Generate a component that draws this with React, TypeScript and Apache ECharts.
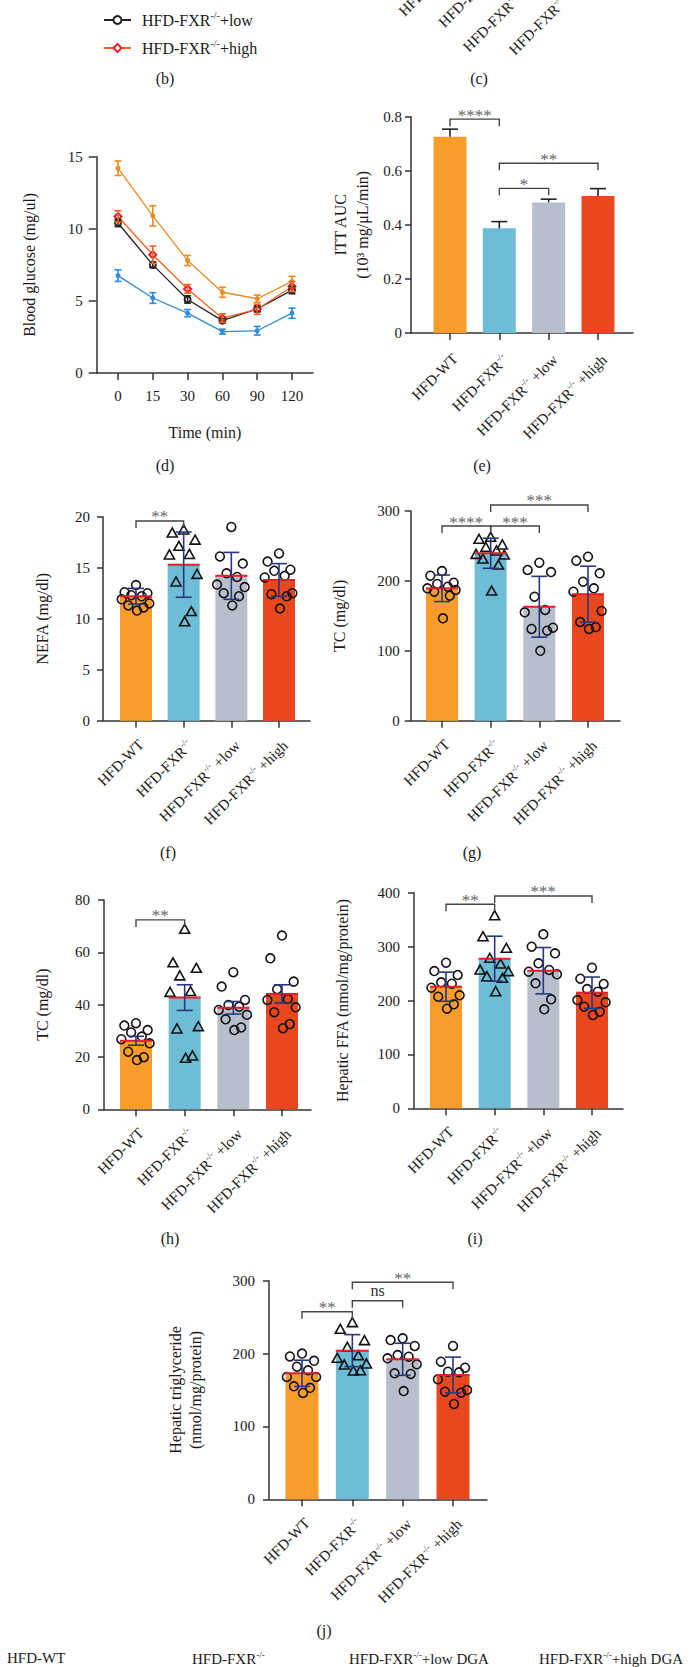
import React, { useEffect, useRef } from "react";
import * as echarts from "echarts";

const FONT = "'Liberation Serif', 'Times New Roman', serif";
const TXT = "#1a1a1a";
const AXIS = "#333333";
const NAVY = "#28367F";

// ---------- shared categories ----------
const groupNames = ["HFD-WT", "HFD-FXR-/-", "HFD-FXR-/- +low", "HFD-FXR-/- +high"];
const barColors = ["#F99C2C", "#6DBDD6", "#B7BFCC", "#E9481F"];
const bottomLegendNames = ["HFD-WT", "HFD-FXR-/-", "HFD-FXR-/-+low DGA", "HFD-FXR-/-+high DGA"];
const panelLetters = ["(b)", "(c)", "(d)", "(e)", "(f)", "(g)", "(h)", "(i)", "(j)"];

// ---------- (d) insulin tolerance curve ----------
const timeLabels = ["0", "15", "30", "60", "90", "120"];
const lineNames = ["HFD-WT", "HFD-FXR-/-", "HFD-FXR-/-+low", "HFD-FXR-/-+high"];
const glucoseWT = [14.2, 10.9, 7.8, 5.6, 5.15, 6.35];
const glucoseWTErr = [0.5, 0.7, 0.35, 0.35, 0.25, 0.35];
const glucoseKO = [6.75, 5.2, 4.15, 2.87, 2.93, 4.15];
const glucoseKOErr = [0.4, 0.37, 0.25, 0.17, 0.3, 0.35];
const glucoseLow = [10.4, 7.5, 5.1, 3.63, 4.44, 5.75];
const glucoseLowErr = [0.25, 0.2, 0.25, 0.15, 0.2, 0.25];
const glucoseHigh = [10.85, 8.2, 5.83, 3.8, 4.42, 6.0];
const glucoseHighErr = [0.4, 0.6, 0.3, 0.3, 0.35, 0.35];

// ---------- (e) ITT AUC ----------
const ittMean = [0.726, 0.387, 0.483, 0.507];
const ittSem = [0.028, 0.025, 0.012, 0.027];
const ittSig = [[0, 1, 0.791], [1, 3, 0.628], [1, 2, 0.535]];
const ittSigLabels = ["****", "**", "*"];

// ---------- (f) NEFA ----------
const nefaMean = [12.2, 15.3, 14.2, 13.8];
const nefaSd = [0.77, 3.2, 2.3, 1.6];
const nefaWT = [13.3, 12.6, 12.5, 12.3, 12.2, 11.9, 11.5, 11.3, 11.1, 10.8];
const nefaKO = [18.7, 18.4, 17.7, 17.1, 16.3, 16.25, 14.35, 13.6, 10.7, 9.7];
const nefaLow = [19.0, 16.1, 15.4, 14.45, 14.1, 13.35, 13.1, 12.5, 12.2, 11.3];
const nefaHigh = [16.4, 15.6, 14.8, 14.7, 14.2, 14.05, 12.5, 12.4, 12.2, 11.0];
const nefaSig = [[0, 1, 19.58]];
const nefaSigLabels = ["**"];

// ---------- (g) TC ----------
const tcMean = [189.4, 239.5, 163, 181];
const tcSd = [19, 21.5, 43.5, 40];
const tcWT = [214, 207.4, 197.4, 195.6, 191.7, 189.4, 187, 184.6, 178.9, 146.5];
const tcKO = [262.4, 259.5, 251.4, 248, 242.8, 238, 237, 231.3, 222.7, 185.5];
const tcLow = [226, 215.6, 212.7, 177.4, 158.4, 155, 133, 131.2, 128.8, 100];
const tcHigh = [234.7, 229, 210.8, 198.9, 189.4, 184.6, 157, 141.2, 134, 131.2];
const tcSig = [[0, 1, 278.5], [1, 2, 278.5], [1, 3, 308.6]];
const tcSigLabels = ["****", "***", "***"];

// ---------- (h) TC ----------
const tc2Mean = [26.2, 42.7, 38.8, 44.1];
const tc2Sem = [1.7, 4.9, 2.4, 3.5];
const tc2WT = [32.9, 32.0, 30.3, 29.4, 27.8, 26.8, 25.2, 22.0, 19.9, 18.8];
const tc2KO = [68.8, 56, 53.9, 51, 45, 44.7, 31.6, 30.7, 20.4, 19.5];
const tc2Low = [52.4, 46.9, 41.8, 39.9, 39.2, 38, 36.1, 34.4, 31.3, 30.3];
const tc2High = [66.4, 57.7, 48.8, 45.9, 42.2, 41.8, 39, 37.1, 32.6, 31];
const tc2Sig = [[0, 1, 72.4]];
const tc2SigLabels = ["**"];

// ---------- (i) Hepatic FFA ----------
const ffaMean = [225.6, 277.6, 255.3, 214.5];
const ffaSd = [27, 41.7, 43, 29];
const ffaWT = [270.2, 254.7, 247.3, 233.7, 231.2, 223.8, 209.6, 207, 193, 184.8];
const ffaKO = [357.3, 318.4, 296.8, 278.3, 267.7, 256.6, 253.5, 244.2, 241.2, 216.3];
const ffaLow = [322.8, 299.8, 287.5, 269, 256.6, 253.5, 248.6, 231.9, 202.2, 183.7];
const ffaHigh = [260.9, 240.4, 230.6, 221.3, 216.3, 200.9, 196.7, 188.5, 179.2, 173.1];
const ffaSig = [[0, 1, 378.5], [1, 3, 393.9]];
const ffaSigLabels = ["**", "***"];

// ---------- (j) Hepatic triglyceride ----------
const tgMean = [172.9, 204, 192.1, 170.6];
const tgSd = [18, 22, 22, 24.5];
const tgWT = [200, 196, 190, 182, 177, 168, 168, 155, 153, 146];
const tgKO = [242.4, 233.3, 217.7, 208.6, 197, 193.5, 185.7, 184.3, 176.5, 176];
const tgLow = [221, 218.6, 210.4, 198, 195.7, 193.5, 185.3, 172.9, 172, 148.6];
const tgHigh = [210.4, 188.8, 180.6, 175.1, 174.3, 164.7, 150, 147.7, 146.3, 130.8];
const tgSig = [[0, 1, 257.4], [1, 2, 272.5], [1, 3, 297.8]];
const tgSigLabels = ["**", "ns", "**"];

// horizontal spread pattern for dots (by rank inside a group, in category units)
const jitter = [0, -0.24, 0.24, -0.1, 0.12, -0.3, 0.28, -0.16, 0.16, 0.02];

// ---------- helpers ----------
const supRich = (size: number) => ({
  n: { fontFamily: FONT, fontSize: size, color: TXT },
  s: { fontFamily: FONT, fontSize: Math.round(size * 0.6), color: TXT, padding: [0, 0, Math.round(size * 0.6), 0] },
});
const supText = (t: string) => {
  const parts = t.split("-/-");
  if (parts.length === 1) return `{n|${t}}`;
  return `{n|${parts[0]}}{s|-/-}` + (parts[1] ? `{n|${parts[1]}}` : "");
};

type Lay = { xL: number; xR: number; c0: number; cN: number; n: number; top: number; bottom: number };

const layC: Lay = { xL: 412.5, xR: 608.5, c0: 437, cN: 584, n: 3, top: -134, bottom: -66 };
const layD: Lay = { xL: 96.7, xR: 313, c0: 118, cN: 292, n: 5, top: 156.7, bottom: 373 };
const layE: Lay = { xL: 411, xR: 633, c0: 450, cN: 598, n: 3, top: 116.7, bottom: 333 };
const layF: Lay = { xL: 103, xR: 310, c0: 136, cN: 279, n: 3, top: 516.7, bottom: 720.7 };
const layG: Lay = { xL: 410.7, xR: 620, c0: 442, cN: 588, n: 3, top: 511, bottom: 720.7 };
const layH: Lay = { xL: 104, xR: 311, c0: 136, cN: 282, n: 3, top: 900, bottom: 1109.3 };
const layI: Lay = { xL: 414, xR: 623, c0: 446, cN: 592, n: 3, top: 892.7, bottom: 1108.3 };
const layJ: Lay = { xL: 269, xR: 487, c0: 302, cN: 453, n: 3, top: 1280.7, bottom: 1499.3 };

const gridOf = (l: Lay) => ({ left: l.xL, top: l.top, width: l.xR - l.xL, height: l.bottom - l.top, containLabel: false });
const rangeOf = (l: Lay) => {
  const unit = (l.cN - l.c0) / l.n;
  return { min: (l.xL - l.c0) / unit, max: l.n + (l.xR - l.cN) / unit };
};

const axisLineStyle = { color: AXIS, width: 1.5 };

const groupXAxis = (gridIndex: number, l: Lay, margin: number, hidden = false) => ({
  type: "value",
  gridIndex,
  ...rangeOf(l),
  axisLine: { show: !hidden, onZero: false, lineStyle: axisLineStyle },
  axisTick: { show: !hidden, customValues: [0, 1, 2, 3], length: 7, lineStyle: axisLineStyle },
  axisLabel: {
    customValues: [0, 1, 2, 3],
    rotate: 45,
    align: "right",
    verticalAlign: "top",
    margin,
    formatter: (v: number) => supText(groupNames[Math.round(v)]),
    rich: supRich(15),
  },
  splitLine: { show: false },
});

const valueYAxis = (
  gridIndex: number,
  max: number,
  interval: number,
  name: string,
  nameGap: number,
  margin: number,
  lineHeight = 18,
  tickLen = 6,
  hidden = false
) => ({
  type: "value",
  gridIndex,
  min: 0,
  max,
  interval,
  show: !hidden,
  name,
  nameLocation: "middle",
  nameGap,
  nameTextStyle: { fontFamily: FONT, fontSize: 16, color: TXT, lineHeight },
  axisLine: { show: true, onZero: false, lineStyle: axisLineStyle },
  axisTick: { show: true, length: tickLen, lineStyle: axisLineStyle },
  axisLabel: { fontFamily: FONT, fontSize: 15, color: TXT, margin },
  splitLine: { show: false },
});

const errorRender = (color: string, mode: "up" | "both", capHalf: number, redW: number) => (params: any, api: any) => {
  const i = api.value(0);
  const m = api.value(1);
  const e = api.value(2);
  const c = api.coord([i, m]);
  const hi = api.coord([i, m + e]);
  const lo = api.coord([i, mode === "up" ? m : m - e]);
  const st = { stroke: color, lineWidth: 1.6, fill: "none" };
  const children: any[] = [];
  if (redW > 0) {
    children.push({
      type: "line",
      shape: { x1: c[0] - redW / 2, y1: c[1], x2: c[0] + redW / 2, y2: c[1] },
      style: { stroke: "#E3202A", lineWidth: 2 },
    });
  }
  children.push({ type: "line", shape: { x1: c[0], y1: hi[1], x2: c[0], y2: lo[1] }, style: st });
  children.push({ type: "line", shape: { x1: c[0] - capHalf, y1: hi[1], x2: c[0] + capHalf, y2: hi[1] }, style: st });
  if (mode === "both") {
    children.push({ type: "line", shape: { x1: c[0] - capHalf, y1: lo[1], x2: c[0] + capHalf, y2: lo[1] }, style: st });
  }
  return { type: "group", children };
};

const pointRender = (params: any, api: any) => {
  const g = api.value(0);
  const v = api.value(1);
  const j = api.value(2);
  const p = api.coord([g, v]);
  const unit = api.size([1, 0])[0];
  const x = p[0] + j * unit;
  const y = p[1];
  const style = { fill: "none", stroke: "#111111", lineWidth: 1.6 };
  if (g === 1) {
    return { type: "polygon", shape: { points: [[x, y - 5], [x - 5, y + 4], [x + 5, y + 4]] }, style };
  }
  return { type: "circle", shape: { cx: x, cy: y, r: 4.4 }, style };
};

const bracketRender = (labels: string[]) => (params: any, api: any) => {
  const a = api.value(0);
  const b = api.value(1);
  const lv = api.value(2);
  const pa = api.coord([a, lv]);
  const pb = api.coord([b, lv]);
  const y = pa[1];
  const label = labels[params.dataIndex];
  const isNs = label === "ns";
  return {
    type: "group",
    children: [
      {
        type: "polyline",
        shape: { points: [[pa[0], y + 7], [pa[0], y], [pb[0], y], [pb[0], y + 7]] },
        style: { stroke: "#444444", lineWidth: 1.4, fill: "none" },
      },
      {
        type: "text",
        x: (pa[0] + pb[0]) / 2,
        y: isNs ? y - 10 : y - 4,
        style: {
          text: label,
          fontFamily: FONT,
          fontSize: isNs ? 16 : 17,
          fill: isNs ? "#333333" : "#666666",
          align: "center",
          verticalAlign: "middle",
        },
      },
    ],
  };
};

function barPanel(
  k: number,
  means: number[],
  errs: number[],
  errMode: "up" | "both",
  errColor: string,
  redTop: boolean,
  points: number[][] | null,
  sig: number[][],
  sigLabels: string[],
  barW: number
) {
  const out: any[] = [
    {
      type: "bar",
      xAxisIndex: k,
      yAxisIndex: k,
      barWidth: barW,
      silent: true,
      z: 1,
      data: means.map((v, i) => ({ value: [i, v], itemStyle: { color: barColors[i] } })),
    },
  ];
  if (points) {
    const pdata: number[][] = [];
    points.forEach((vals, g) => vals.forEach((v, r) => pdata.push([g, v, jitter[r]])));
    out.push({ type: "custom", xAxisIndex: k, yAxisIndex: k, clip: false, silent: true, z: 4, renderItem: pointRender, data: pdata });
  }
  out.push({
    type: "custom",
    xAxisIndex: k,
    yAxisIndex: k,
    clip: false,
    silent: true,
    z: 5,
    renderItem: errorRender(errColor, errMode, 8, redTop ? barW : 0),
    data: means.map((m, i) => [i, m, errs[i]]),
  });
  out.push({
    type: "custom",
    xAxisIndex: k,
    yAxisIndex: k,
    clip: false,
    silent: true,
    z: 5,
    renderItem: bracketRender(sigLabels),
    data: sig,
  });
  return out;
}

function buildOption() {
  const glucose = [
    { name: lineNames[0], mean: glucoseWT, err: glucoseWTErr, line: "#EE8A1D", mark: "#EE8A1D", symbol: "emptyCircle", size: 3 },
    { name: lineNames[1], mean: glucoseKO, err: glucoseKOErr, line: "#2E8DD6", mark: "#2E8DD6", symbol: "emptyCircle", size: 3 },
    { name: lineNames[2], mean: glucoseLow, err: glucoseLowErr, line: "#222222", mark: "#222222", symbol: "emptyCircle", size: 6 },
    { name: lineNames[3], mean: glucoseHigh, err: glucoseHighErr, line: "#F2621F", mark: "#E3202A", symbol: "emptyDiamond", size: 7 },
  ];

  const series: any[] = [];
  glucose.forEach((s) => {
    series.push({
      type: "line",
      name: s.name,
      xAxisIndex: 1,
      yAxisIndex: 1,
      data: s.mean.map((v, i) => [i, v]),
      symbol: s.symbol,
      symbolSize: s.size,
      lineStyle: { color: s.line, width: 1.3 },
      itemStyle: { color: s.mark, borderWidth: 1.3 },
      silent: true,
      z: 3,
    });
    series.push({
      type: "custom",
      xAxisIndex: 1,
      yAxisIndex: 1,
      clip: false,
      silent: true,
      z: 4,
      renderItem: errorRender(s.line, "both", 3.5, 0),
      data: s.mean.map((m, i) => [i, m, s.err[i]]),
    });
  });

  series.push(...barPanel(2, ittMean, ittSem, "up", "#222222", false, null, ittSig, ittSigLabels, 33));
  series.push(...barPanel(3, nefaMean, nefaSd, "both", NAVY, true, [nefaWT, nefaKO, nefaLow, nefaHigh], nefaSig, nefaSigLabels, 32));
  series.push(...barPanel(4, tcMean, tcSd, "both", NAVY, true, [tcWT, tcKO, tcLow, tcHigh], tcSig, tcSigLabels, 32));
  series.push(...barPanel(5, tc2Mean, tc2Sem, "both", NAVY, true, [tc2WT, tc2KO, tc2Low, tc2High], tc2Sig, tc2SigLabels, 32));
  series.push(...barPanel(6, ffaMean, ffaSd, "both", NAVY, true, [ffaWT, ffaKO, ffaLow, ffaHigh], ffaSig, ffaSigLabels, 32));
  series.push(...barPanel(7, tgMean, tgSd, "both", NAVY, true, [tgWT, tgKO, tgLow, tgHigh], tgSig, tgSigLabels, 33));

  const letterPos = [
    [165, 78], [479, 78], [165, 465], [482, 465], [168, 852], [472, 852], [170, 1238], [475, 1238], [324, 1630],
  ];
  const legendX = [7, 192, 349, 539];

  const graphic: any[] = [];
  panelLetters.forEach((t, i) => {
    graphic.push({
      type: "text",
      x: letterPos[i][0],
      y: letterPos[i][1],
      style: { text: t, fontFamily: FONT, fontSize: 16, fill: TXT, align: "center", verticalAlign: "middle" },
    });
  });
  bottomLegendNames.forEach((t, i) => {
    graphic.push({
      type: "text",
      x: legendX[i],
      y: 1650,
      style: { text: supText(t), rich: supRich(15), fontFamily: FONT, fontSize: 15, fill: TXT, align: "left", verticalAlign: "top" },
    });
  });

  const dRange = rangeOf(layD);

  return {
    animation: false,
    backgroundColor: "#ffffff",
    textStyle: { fontFamily: FONT },
    grid: [layC, layD, layE, layF, layG, layH, layI, layJ].map(gridOf),
    legend: {
      data: lineNames,
      orient: "vertical",
      left: 98,
      top: -50,
      itemWidth: 27,
      itemHeight: 10,
      itemGap: 9,
      formatter: (name: string) => supText(name),
      textStyle: { fontFamily: FONT, fontSize: 16, color: TXT, lineHeight: 18, padding: [0, 0, 0, 6], rich: supRich(16) },
      selectedMode: false,
    },
    xAxis: [
      groupXAxis(0, layC, 16, true),
      {
        type: "value",
        gridIndex: 1,
        min: dRange.min,
        max: dRange.max,
        name: "Time (min)",
        nameLocation: "middle",
        nameGap: 51,
        nameTextStyle: { fontFamily: FONT, fontSize: 16, color: TXT },
        axisLine: { show: true, onZero: false, lineStyle: axisLineStyle },
        axisTick: { show: true, customValues: [0, 1, 2, 3, 4, 5], length: 7, lineStyle: axisLineStyle },
        axisLabel: {
          customValues: [0, 1, 2, 3, 4, 5],
          fontFamily: FONT,
          fontSize: 15,
          color: TXT,
          margin: 15,
          formatter: (v: number) => timeLabels[Math.round(v)],
        },
        splitLine: { show: false },
      },
      groupXAxis(2, layE, 18),
      groupXAxis(3, layF, 16),
      groupXAxis(4, layG, 16),
      groupXAxis(5, layH, 16),
      groupXAxis(6, layI, 16),
      groupXAxis(7, layJ, 16),
    ],
    yAxis: [
      valueYAxis(0, 1, 1, "", 0, 8, 18, 6, true),
      valueYAxis(1, 15, 5, "Blood glucose (mg/ul)", 58, 14, 18, 8),
      valueYAxis(2, 0.8, 0.2, "ITT AUC\n(10³ mg/μL/min)", 38, 9, 22, 6),
      valueYAxis(3, 20, 5, "NEFA (mg/dl)", 52, 13, 18, 6),
      valueYAxis(4, 300, 100, "TC (mg/dl)", 62, 11, 18, 6),
      valueYAxis(5, 80, 20, "TC (mg/dl)", 53, 14, 18, 6),
      valueYAxis(6, 400, 100, "Hepatic FFA (nmol/mg/protein)", 63, 14, 18, 6),
      valueYAxis(7, 300, 100, "Hepatic triglyceride\n(nmol/mg/protein)", 64, 14, 20, 6),
    ],
    series,
    graphic,
  };
}

export default function App() {
  const ref = useRef<HTMLDivElement>(null);
  useEffect(() => {
    if (!ref.current) return;
    const chart = echarts.init(ref.current, undefined, { renderer: "svg" });
    chart.setOption(buildOption() as any);
    return () => chart.dispose();
  }, []);
  return <div ref={ref} style={{ position: "absolute", left: 0, top: 0, width: 699, height: 1667 }} />;
}
